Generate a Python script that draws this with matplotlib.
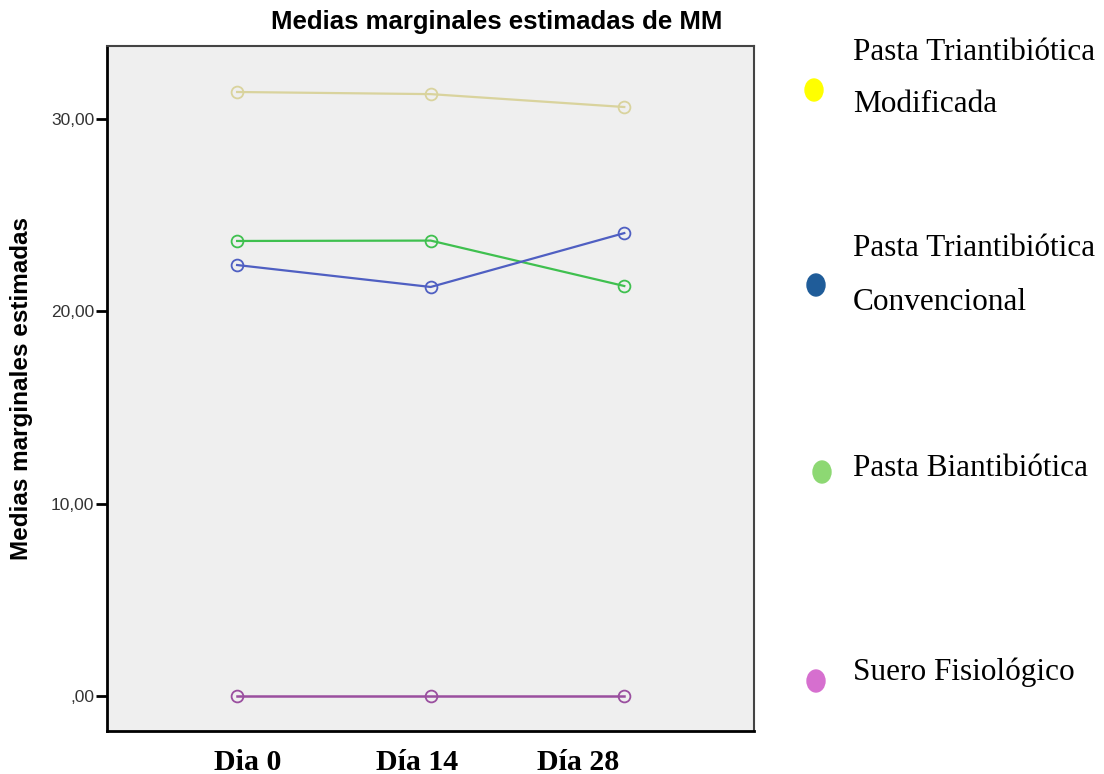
import matplotlib.pyplot as plt
from matplotlib.patches import Ellipse

dias = ['Dia 0', 'Día 14', 'Día 28']
modificada = [31.38, 31.27, 30.6]
biantibiotica = [23.64, 23.66, 21.3]
convencional = [22.39, 21.25, 24.05]
suero = [0.0, 0.0, 0.0]

yticks = [0, 10, 20, 30]
ytick_labels = [',00', '10,00', '20,00', '30,00']

W, H = 1104, 774
fig = plt.figure(figsize=(11.04, 7.74), dpi=100)
ax = fig.add_axes([107/W, 1 - 731/H, (754-107)/W, (731-46)/H])
ax.set_facecolor('#efefef')

x = range(len(dias))
ax.plot(x, modificada, color='#d9d39d', lw=1.6, marker='o', ms=8.5, mfc='none', mew=1.3)
ax.plot(x, biantibiotica, color='#3fc04f', lw=1.6, marker='o', ms=8.5, mfc='none', mew=1.3)
ax.plot(x, convencional, color='#4f5fc2', lw=1.6, marker='o', ms=8.5, mfc='none', mew=1.3)
ax.plot(x, suero, color='#9a4f9f', lw=1.8, marker='o', ms=8.5, mfc='none', mew=1.3)

ax.set_xlim(-0.672, 2.67)
ax.set_ylim(-1.82, 33.77)
ax.set_yticks(yticks)
ax.set_yticklabels(ytick_labels, fontsize=12.5, color='#333333', family='Liberation Sans')
ax.tick_params(axis='y', length=8, width=2, direction='out', pad=1)
ax.set_xticks([])

for s in ['left', 'bottom']:
    ax.spines[s].set_linewidth(2)
    ax.spines[s].set_color('black')
for s in ['top', 'right']:
    ax.spines[s].set_linewidth(1.5)
    ax.spines[s].set_color('#444444')

# etiquetas del eje x (desplazadas como en el original)
xlab_pos = [248, 417, 578]
for t, px in zip(dias, xlab_pos):
    fig.text(px/W, 1 - 762/H, t, family='Liberation Serif', fontweight='bold',
             fontsize=21.5, ha='center', va='center')

fig.text(497/W, 1 - 22/H, 'Medias marginales estimadas de MM', family='Liberation Sans',
         fontweight='bold', fontsize=18.5, ha='center', va='center')
fig.text(22/W, 1 - 388/H, 'Medias marginales estimadas', family='Liberation Sans',
         fontweight='bold', fontsize=17.5, ha='center', va='center', rotation=90)

# leyenda manual
leg_colors = ['#ffff00', '#1f5c99', '#8dd873', '#d66fcf']
leg_circles = [90, 285, 472, 681]
leg_circle_x = [814, 816, 822, 816]
leg_lines = [['Pasta Triantibiótica', 'Modificada'],
             ['Pasta Triantibiótica', 'Convencional'],
             ['Pasta Biantibiótica'],
             ['Suero Fisiológico']]
leg_text_y = [[52, 104], [249, 302], [468], [672]]

for c, cx, cy in zip(leg_colors, leg_circle_x, leg_circles):
    fig.add_artist(Ellipse((cx/W, 1 - cy/H), 18/W, 22/H,
                           color=c, transform=fig.transFigure))
for lines, ys in zip(leg_lines, leg_text_y):
    for t, yy in zip(lines, ys):
        fig.text(853/W, 1 - yy/H, t, family='Liberation Serif',
                 fontsize=22.5, va='center', ha='left')

fig.savefig('out.png', dpi=100)
